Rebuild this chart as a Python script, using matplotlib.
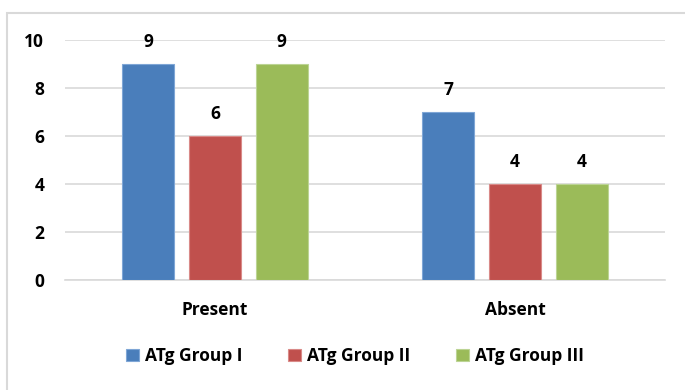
import numpy as np
import matplotlib
matplotlib.use("Agg")
import matplotlib.pyplot as plt
from matplotlib.patches import Rectangle

categories = ["Present", "Absent"]
series = ["ATg Group I", "ATg Group II", "ATg Group III"]
values = {
    "ATg Group I":   [9, 7],
    "ATg Group II":  [6, 4],
    "ATg Group III": [9, 4],
}
yticks = [0, 2, 4, 6, 8, 10]

COLORS = {
    "ATg Group I":   "#4A7EBB",
    "ATg Group II":  "#C0504D",
    "ATg Group III": "#9BBB59",
}
EDGES = {
    "ATg Group I":   "#7FA6D6",
    "ATg Group II":  "#D98A88",
    "ATg Group III": "#BCD494",
}

plt.rcParams["font.family"] = ["Open Sans", "DejaVu Sans"]
plt.rcParams["font.weight"] = "bold"
FS = 12.5

W, H = 685, 390
fig = plt.figure(figsize=(W / 100, H / 100), dpi=100)
ax = fig.add_axes([65 / W, 1 - 280 / H, 600 / W, 240 / H])

# chart frame (cut off on right and bottom)
fig.patches.append(Rectangle((7 / W, -0.1), 1.2, 1 - 13 / H + 0.1,
                             transform=fig.transFigure, fill=False,
                             edgecolor="#D9D9D9", lw=1.5))

x = np.arange(len(categories))
bar_w = 0.173
step = 0.222
for i, name in enumerate(series):
    pos = x + (i - 1) * step
    bars = ax.bar(pos, values[name], width=bar_w, color=COLORS[name],
                  edgecolor=EDGES[name], linewidth=0.8, label=name, zorder=3)
    for b, v in zip(bars, values[name]):
        ax.text(b.get_x() + b.get_width() / 2, v + 0.92, str(v),
                ha="center", va="center", fontsize=FS, fontweight="bold")

ax.set_xlim(-0.5, 1.5)
ax.set_ylim(0, 10)
ax.set_yticks(yticks)
ax.set_yticklabels([str(t) for t in yticks], fontsize=FS, fontweight="bold")
ax.set_xticks(x)
ax.set_xticklabels(categories, fontsize=FS, fontweight="bold")
ax.tick_params(axis="both", length=0)
ax.tick_params(axis="y", pad=15)
ax.tick_params(axis="x", pad=15)
ax.grid(axis="y", color="#D9D9D9", lw=1.2, zorder=0)
for s in ["top", "right", "left"]:
    ax.spines[s].set_visible(False)
ax.spines["bottom"].set_color("#D9D9D9")
ax.spines["bottom"].set_linewidth(1.2)

leg = fig.legend(loc="center", bbox_to_anchor=(355 / W, 1 - 356 / H), ncol=3,
                 frameon=False, fontsize=FS, handlelength=0.75,
                 handleheight=0.75, handletextpad=0.35, columnspacing=2.6)
for t in leg.get_texts():
    t.set_fontweight("bold")

fig.savefig("out.png", dpi=100)
